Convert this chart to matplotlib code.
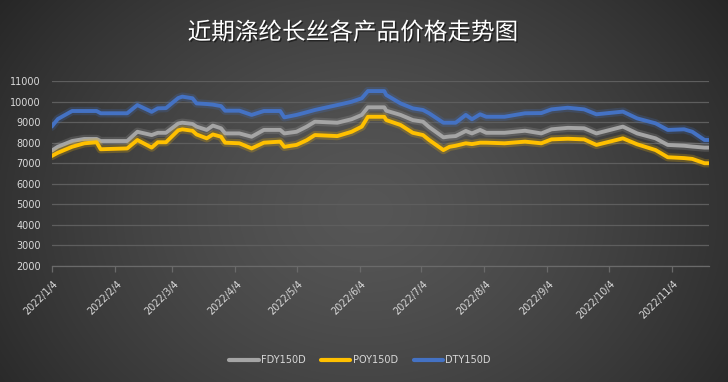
import numpy as np
import pandas as pd
import matplotlib
matplotlib.use("Agg")
import matplotlib.pyplot as plt
import matplotlib.dates as mdates
import matplotlib.patheffects as pe
import matplotlib.transforms as mtransforms

dates = ["2022-01-04", "2022-01-07", "2022-01-14", "2022-01-20", "2022-01-26", "2022-01-28",
         "2022-02-10", "2022-02-15", "2022-02-22", "2022-02-25", "2022-03-01", "2022-03-07",
         "2022-03-09", "2022-03-14", "2022-03-16", "2022-03-21", "2022-03-24", "2022-03-28",
         "2022-03-30", "2022-04-06", "2022-04-12", "2022-04-18", "2022-04-26", "2022-04-28",
         "2022-05-04", "2022-05-09", "2022-05-13", "2022-05-24", "2022-05-31", "2022-06-05",
         "2022-06-08", "2022-06-16", "2022-06-17", "2022-06-24", "2022-06-30", "2022-07-05",
         "2022-07-08", "2022-07-15", "2022-07-18", "2022-07-21", "2022-07-26", "2022-07-29",
         "2022-08-02", "2022-08-05", "2022-08-14", "2022-08-24", "2022-09-01", "2022-09-06",
         "2022-09-14", "2022-09-22", "2022-09-28", "2022-10-11", "2022-10-18", "2022-10-27",
         "2022-11-02", "2022-11-10", "2022-11-14", "2022-11-20", "2022-11-22"]

dty = [8780, 9150, 9540, 9540, 9540, 9430,
       9430, 9830, 9500, 9670, 9680, 10170,
       10240, 10160, 9910, 9880, 9850, 9780,
       9555, 9555, 9350, 9540, 9540, 9230,
       9350, 9480, 9590, 9830, 9990, 10160,
       10510, 10510, 10320, 9910, 9670, 9590,
       9430, 8970, 8970, 8970, 9350, 9140,
       9380, 9260, 9260, 9430, 9440, 9620,
       9700, 9620, 9380, 9510, 9180, 8940,
       8620, 8650, 8530, 8130, 8130]

fdy = [7610, 7800, 8080, 8180, 8180, 8080,
       8080, 8530, 8370, 8480, 8480, 8930,
       8970, 8910, 8780, 8620, 8830, 8700,
       8450, 8450, 8290, 8620, 8620, 8450,
       8530, 8780, 9020, 8970, 9140, 9350,
       9720, 9720, 9555, 9350, 9100, 9020,
       8760, 8260, 8300, 8320, 8570, 8450,
       8620, 8480, 8480, 8580, 8450, 8650,
       8720, 8700, 8450, 8780, 8450, 8210,
       7890, 7850, 7810, 7760, 7760]

poy = [7350, 7510, 7800, 7970, 8020, 7680,
       7720, 8130, 7760, 8020, 8020, 8600,
       8650, 8580, 8400, 8210, 8400, 8290,
       8000, 7970, 7720, 8000, 8050, 7800,
       7890, 8120, 8370, 8320, 8530, 8780,
       9260, 9260, 9100, 8860, 8480, 8370,
       8130, 7640, 7800, 7850, 7970, 7930,
       8000, 8000, 7970, 8050, 7970, 8160,
       8190, 8160, 7890, 8210, 7920, 7640,
       7290, 7250, 7210, 7000, 7000]

series_names = ["FDY150D", "POY150D", "DTY150D"]
series_colors = ["#a5a5a5", "#ffc000", "#4472c4"]
tick_dates = ["2022-01-04", "2022-02-04", "2022-03-04", "2022-04-04", "2022-05-04", "2022-06-04",
              "2022-07-04", "2022-08-04", "2022-09-04", "2022-10-04", "2022-11-04"]
tick_labels = ["2022/1/4", "2022/2/4", "2022/3/4", "2022/4/4", "2022/5/4", "2022/6/4",
               "2022/7/4", "2022/8/4", "2022/9/4", "2022/10/4", "2022/11/4"]
y_ticks = list(range(2000, 11001, 1000))
title = "近期涤纶长丝各产品价格走势图"

plt.rcParams['font.family'] = ['DejaVu Sans', 'Noto Sans CJK SC']

W, H = 728, 382
fig = plt.figure(figsize=(W / 100, H / 100), dpi=100)

# radial gradient background
bg = fig.add_axes([0, 0, 1, 1], zorder=0)
yy, xx = np.mgrid[0:H, 0:W]
cx, cy = W * 0.5, H * 0.55
r = np.sqrt(((xx - cx) / (W * 0.62)) ** 2 + ((yy - cy) / (H * 0.95)) ** 2)
r = np.clip(r, 0, 1)
c_in, c_out = 0x56, 0x26
val = (c_in + (c_out - c_in) * r ** 1.4) / 255.0
img = np.dstack([val, val, val])
bg.imshow(img, aspect='auto', extent=[0, 1, 0, 1], origin='upper')
bg.set_axis_off()

ax = fig.add_axes([51.7 / W, 1 - 266 / H, (708.6 - 51.7) / W, (266 - 81) / H], zorder=1)
ax.patch.set_alpha(0)

x = pd.to_datetime(dates)
for name, vals, col in zip(series_names, [fdy, poy, dty], series_colors):
    ax.plot(x, vals, color=col, lw=2.8, label=name, solid_joinstyle='round',
            solid_capstyle='round', zorder=3,
            path_effects=[pe.Stroke(linewidth=6, foreground=col, alpha=0.22), pe.Normal()])

ax.set_ylim(2000, 11000)
ax.set_yticks(y_ticks)
ax.set_yticklabels([str(v) for v in y_ticks])
ax.set_xlim(pd.Timestamp("2022-01-04"), pd.Timestamp("2022-11-22"))
ax.set_xticks(pd.to_datetime(tick_dates))
ax.set_xticklabels(tick_labels, rotation=45, ha='right', va='center', rotation_mode='anchor')

ax.grid(axis='y', color='#5e5e5e', lw=0.9, zorder=0)
ax.set_axisbelow(True)
for s in ['top', 'right', 'left']:
    ax.spines[s].set_visible(False)
ax.spines['bottom'].set_color('#6a6a6a')
ax.spines['bottom'].set_linewidth(0.9)
ax.tick_params(axis='y', length=0, pad=8, labelsize=7, labelcolor='#d9d9d9')
ax.tick_params(axis='x', length=4, width=0.9, color='#6a6a6a', direction='out', pad=6,
               labelsize=7, labelcolor='#d9d9d9')
offset = mtransforms.ScaledTranslation(5 / 100, -2 / 100, fig.dpi_scale_trans)
for lab in ax.get_xticklabels():
    lab.set_transform(lab.get_transform() + offset)

leg = fig.legend(loc='center', bbox_to_anchor=(360 / W, 1 - 360 / H), ncol=3, frameon=False,
                 fontsize=7, labelcolor='#d9d9d9', handlelength=3.0, handletextpad=0.25,
                 columnspacing=1.6)
for h in leg.get_lines():
    h.set_linewidth(3)
    h.set_path_effects([])

t = fig.text(353 / W, 1 - 33 / H, title, ha='center', va='center', fontsize=17,
             color='white', family=['Noto Sans CJK SC'], fontweight='medium')
t.set_path_effects([pe.withSimplePatchShadow(offset=(1, -1), shadow_rgbFace='black', alpha=0.5)])

fig.savefig("out.png", dpi=100)
